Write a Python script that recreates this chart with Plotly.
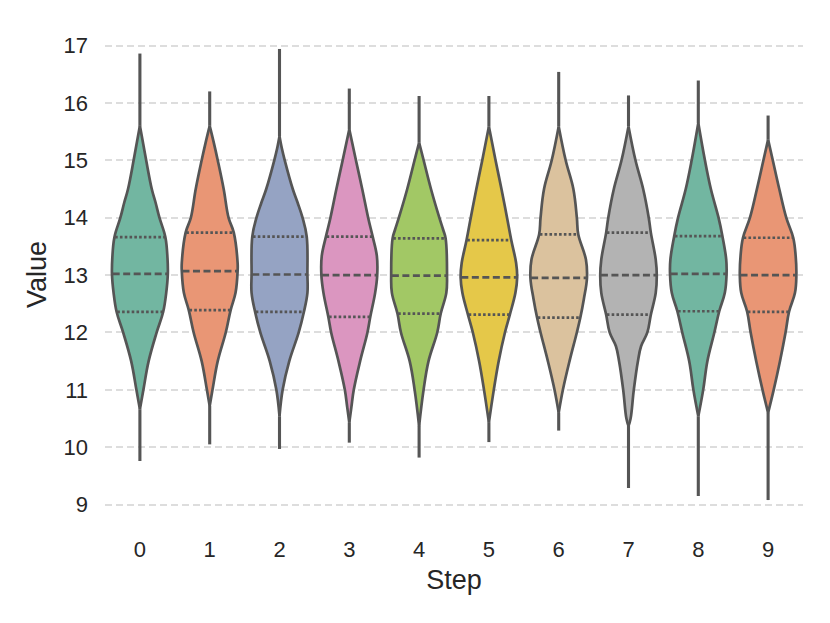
import colorsys
import numpy as np
import plotly.graph_objects as go

# Steps on the x axis
steps = list(range(10))

# Density outline of each violin: value levels (bottom -> top) and half widths.
# First and last levels are the ends of the thin tails.
violin_levels = [
    [9.76, 10.66, 11.0, 11.5, 12.0, 12.36, 12.69, 13.02, 13.3, 13.66, 14.0, 14.26, 14.5, 15.0, 15.3, 15.6, 16.86],
    [10.05, 10.72, 11.0, 11.5, 12.0, 12.39, 12.69, 13.07, 13.21, 13.74, 14.0, 14.5, 15.0, 15.3, 15.6, 16.20],
    [9.97, 10.54, 11.0, 11.5, 12.0, 12.36, 12.69, 13.01, 13.67, 14.0, 14.26, 14.5, 15.0, 15.2, 15.42, 16.94],
    [10.08, 10.43, 10.7, 11.0, 11.5, 12.0, 12.27, 12.69, 13.0, 13.33, 13.67, 14.0, 14.5, 15.0, 15.54, 16.25],
    [9.82, 10.37, 11.0, 11.5, 12.0, 12.33, 12.69, 12.99, 13.64, 13.79, 14.0, 14.5, 15.0, 15.31, 16.12],
    [10.09, 10.43, 11.0, 11.5, 12.0, 12.31, 12.69, 12.96, 13.21, 13.61, 14.0, 14.5, 15.0, 15.59, 16.12],
    [10.29, 10.6, 11.0, 11.5, 12.0, 12.26, 12.58, 12.95, 13.27, 13.71, 14.0, 14.5, 15.0, 15.59, 16.54],
    [9.29, 10.37, 10.5, 11.0, 11.5, 11.76, 12.0, 12.31, 12.69, 13.0, 13.27, 13.74, 14.0, 14.5, 15.0, 15.59, 16.13],
    [9.15, 10.54, 11.0, 11.5, 12.0, 12.37, 12.69, 13.02, 13.27, 13.68, 14.0, 14.5, 15.0, 15.65, 16.39],
    [9.08, 10.6, 11.0, 11.5, 12.0, 12.36, 12.69, 13.0, 13.33, 13.65, 14.0, 14.5, 15.0, 15.36, 15.78],
]
violin_widths = [
    [0.0, 0.0, 0.05, 0.125, 0.24, 0.334, 0.377, 0.40, 0.395, 0.365, 0.28, 0.225, 0.17, 0.09, 0.045, 0.0, 0.0],
    [0.0, 0.0, 0.04, 0.115, 0.23, 0.30, 0.37, 0.40, 0.40, 0.345, 0.27, 0.20, 0.115, 0.06, 0.0, 0.0],
    [0.0, 0.0, 0.045, 0.14, 0.275, 0.35, 0.40, 0.40, 0.39, 0.33, 0.26, 0.19, 0.075, 0.035, 0.0, 0.0],
    [0.0, 0.0, 0.03, 0.064, 0.155, 0.26, 0.30, 0.37, 0.40, 0.395, 0.335, 0.27, 0.185, 0.095, 0.0, 0.0],
    [0.0, 0.0, 0.064, 0.135, 0.26, 0.31, 0.39, 0.40, 0.38, 0.345, 0.29, 0.17, 0.065, 0.0, 0.0],
    [0.0, 0.0, 0.07, 0.14, 0.23, 0.30, 0.38, 0.405, 0.39, 0.32, 0.26, 0.18, 0.095, 0.0, 0.0],
    [0.0, 0.0, 0.06, 0.155, 0.26, 0.31, 0.36, 0.405, 0.39, 0.28, 0.26, 0.21, 0.10, 0.0, 0.0],
    [0.0, 0.0, 0.03, 0.076, 0.135, 0.18, 0.27, 0.32, 0.39, 0.405, 0.39, 0.32, 0.29, 0.21, 0.10, 0.0, 0.0],
    [0.0, 0.0, 0.07, 0.13, 0.23, 0.30, 0.38, 0.405, 0.40, 0.345, 0.29, 0.18, 0.095, 0.0, 0.0],
    [0.0, 0.0, 0.08, 0.17, 0.25, 0.30, 0.385, 0.405, 0.395, 0.36, 0.26, 0.16, 0.067, 0.0, 0.0],
]

# Quartiles per step
q1 = [12.36, 12.39, 12.36, 12.27, 12.33, 12.31, 12.26, 12.31, 12.37, 12.36]
median = [13.02, 13.07, 13.01, 13.0, 12.99, 12.96, 12.95, 13.0, 13.02, 13.0]
q3 = [13.66, 13.74, 13.67, 13.67, 13.64, 13.61, 13.71, 13.74, 13.68, 13.65]

set2 = ["#66c2a5", "#fc8d62", "#8da0cb", "#e78ac3",
        "#a6d854", "#ffd92f", "#e5c494", "#b3b3b3"]


def desaturate(hex_color, prop=0.75):
    r, g, b = (int(hex_color[i:i + 2], 16) / 255 for i in (1, 3, 5))
    h, l, s = colorsys.rgb_to_hls(r, g, b)
    r, g, b = colorsys.hls_to_rgb(h, l, s * prop)
    return "rgb(%d,%d,%d)" % (round(r * 255), round(g * 255), round(b * 255))


edge = "#555555"
lw = 2.7
fig = go.Figure()

for i, step in enumerate(steps):
    ys = np.array(violin_levels[i])
    ws = np.array(violin_widths[i])
    by, bw = ys[1:-1], ws[1:-1]
    # left edge, then right edge filled back to it
    fig.add_trace(go.Scatter(
        x=step - bw, y=by, mode="lines",
        line=dict(color=edge, width=lw, shape="spline", smoothing=1.1),
        hoverinfo="skip", showlegend=False,
    ))
    fig.add_trace(go.Scatter(
        x=step + bw, y=by, mode="lines", fill="tonextx",
        fillcolor=desaturate(set2[i % len(set2)]),
        line=dict(color=edge, width=lw, shape="spline", smoothing=1.1),
        hoverinfo="skip", showlegend=False,
    ))
    # thin tails at both ends
    fig.add_trace(go.Scatter(
        x=[step, step, None, step, step],
        y=[ys[0], ys[1], None, ys[-2], ys[-1]],
        mode="lines", line=dict(color=edge, width=3.1),
        hoverinfo="skip", showlegend=False,
    ))

# Quartile lines across each violin
for vals, dash in [(median, "7px,3.5px"), (q1, "2.6px,2.2px"), (q3, "2.6px,2.2px")]:
    lx, ly = [], []
    for i, step in enumerate(steps):
        w = np.interp(vals[i], violin_levels[i], violin_widths[i]) - 0.01
        lx += [step - w, step + w, None]
        ly += [vals[i], vals[i], None]
    fig.add_trace(go.Scatter(
        x=lx, y=ly, mode="lines",
        line=dict(color=edge, width=lw, dash=dash),
        hoverinfo="skip", showlegend=False,
    ))

# page body adds an 8px offset, so the figure is a bit smaller than the window
fig.update_layout(
    width=822, height=615,
    margin=dict(l=97, r=27, t=18, b=100),
    plot_bgcolor="white", paper_bgcolor="white",
    font=dict(family="Liberation Sans, Arial, sans-serif", color="#262626"),
    xaxis=dict(
        range=[-0.5, 9.5], tickvals=steps, ticktext=[str(s) for s in steps],
        showgrid=False, zeroline=False, showline=False, ticks="",
        tickfont=dict(size=22), ticklabelstandoff=11,
        title=dict(text="Step", font=dict(size=27), standoff=9),
    ),
    yaxis=dict(
        range=[8.68, 17.34], tickvals=list(range(9, 18)),
        showgrid=True, gridcolor="#dddddd", gridwidth=1.7, griddash="7px,4px",
        zeroline=False, showline=False, ticks="",
        tickfont=dict(size=22), ticklabelstandoff=16,
        title=dict(text="Value", font=dict(size=27), standoff=9),
    ),
)

fig.write_html("out.html")
